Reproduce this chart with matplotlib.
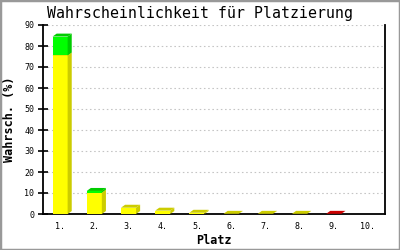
import matplotlib.pyplot as plt
from matplotlib.patches import Polygon

# data
places = ['1.', '2.', '3.', '4.', '5.', '6.', '7.', '8.', '9.', '10.']
yellow = [75.5, 10.2, 3.0, 1.6, 0.6, 0.1, 0.1, 0.1, 0.0, 0.0]
green = [9.0, 0.8, 0.0, 0.0, 0.0, 0.0, 0.0, 0.0, 0.0, 0.0]
red = [0.0, 0.0, 0.0, 0.0, 0.0, 0.0, 0.0, 0.0, 0.1, 0.0]

# colours: front face, side/top face
series = [(yellow, '#ffff00', '#cccc00'),
          (green, '#00ff00', '#00cc00'),
          (red, '#ee0000', '#cc0000')]

mono = 'DejaVu Sans Mono'
fig = plt.figure(figsize=(4, 2.5), dpi=100)
fig.patches.append(plt.Rectangle((0, 0), 1, 1, transform=fig.transFigure,
                                 fill=False, edgecolor='#999999', linewidth=2.5))
ax = fig.add_axes([0.1075, 0.144, 0.855, 0.756])

w = 0.44     # bar width
dx = 0.12    # depth in x
dy = 1.4     # depth in y
xs = list(range(1, len(places) + 1))

bottom = [0.0] * len(places)
for vals, front, side in series:
    for i, v in enumerate(vals):
        if v <= 0:
            continue
        x0 = xs[i] - w / 2
        x1 = xs[i] + w / 2
        b = bottom[i]
        t = b + v
        ax.bar(xs[i], v, width=w, bottom=b, color=front, linewidth=0, zorder=3)
        ax.add_patch(Polygon([(x1, b), (x1 + dx, b + dy), (x1 + dx, t + dy), (x1, t)],
                             closed=True, facecolor=side, linewidth=0, zorder=3))
        ax.add_patch(Polygon([(x0, t), (x0 + dx, t + dy), (x1 + dx, t + dy), (x1, t)],
                             closed=True, facecolor=side, linewidth=0, zorder=3))
        bottom[i] = t

ax.set_xlim(0.5, 10.5)
ax.set_ylim(0, 90)
ax.set_yticks(range(0, 91, 10))
ax.set_xticks(xs)
ax.set_xticklabels(places)
ax.yaxis.grid(True, color='#c4c4c4', linestyle=(0, (1.4, 2.4)), linewidth=0.8, zorder=0)
ax.set_axisbelow(True)

for s in ['left', 'bottom', 'right']:
    ax.spines[s].set_linewidth(1.3)
ax.spines['top'].set_visible(False)
ax.tick_params(axis='y', direction='inout', length=6.5, width=1.2, labelsize=6, pad=3)
ax.tick_params(axis='x', length=0, labelsize=6, pad=6)
for lab in ax.get_xticklabels() + ax.get_yticklabels():
    lab.set_family(mono)

fig.text(0.5, 0.945, 'Wahrscheinlichkeit für Platzierung', family=mono, fontsize=10.7,
         ha='center', va='center')
ax.set_ylabel('Wahrsch. (%)', family=mono, fontsize=8.5, fontweight='bold', labelpad=6)
ax.set_xlabel('Platz', family=mono, fontsize=8.5, fontweight='bold', labelpad=2)

fig.savefig('out.png', dpi=100)
